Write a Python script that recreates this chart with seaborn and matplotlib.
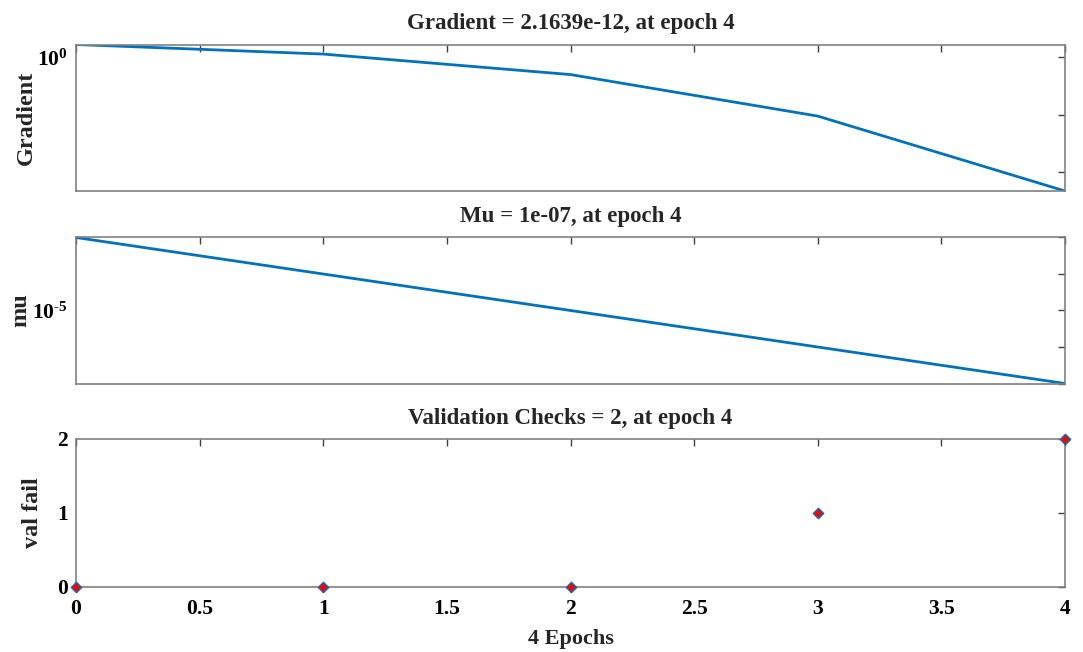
import numpy as np
import pandas as pd
import matplotlib
matplotlib.use("Agg")
import matplotlib.pyplot as plt
from matplotlib.ticker import FixedLocator, FixedFormatter, NullLocator
import seaborn as sns

# ---- data ----
epochs = [0, 1, 2, 3, 4]
gradient = [13.0, 1.9, 0.031, 7.4e-6, 2.1639e-12]
mu = [1e-3, 1e-4, 1e-5, 1e-6, 1e-7]
val_fail = [0, 0, 0, 1, 2]

titles = ["Gradient = 2.1639e-12, at epoch 4",
          "Mu = 1e-07, at epoch 4",
          "Validation Checks = 2, at epoch 4"]
ylabels = ["Gradient", "mu", "val fail"]
xlabel = "4 Epochs"
xticks = [0, 0.5, 1, 1.5, 2, 2.5, 3, 3.5, 4]
xticklabels = ["0", "0.5", "1", "1.5", "2", "2.5", "3", "3.5", "4"]

sns.set_style("white")
plt.rcParams["font.family"] = ["Liberation Serif", "DejaVu Serif"]
plt.rcParams["font.weight"] = "bold"
plt.rcParams["mathtext.fontset"] = "custom"
plt.rcParams["mathtext.rm"] = "Liberation Serif"
plt.rcParams["mathtext.bf"] = "Liberation Serif:bold"
plt.rcParams["mathtext.default"] = "regular"

blue = "#0072BD"
spine_c = "#808080"

fig = plt.figure(figsize=(10.83, 6.52), dpi=100)
W, H = 1083, 652
def ax_at(x0, y0, x1, y1):
    return fig.add_axes([x0 / W, 1 - y1 / H, (x1 - x0) / W, (y1 - y0) / H])

ax1 = ax_at(76, 44.5, 1065, 191)
ax2 = ax_at(76, 237.5, 1065, 383.5)
ax3 = ax_at(76, 439, 1065, 587)

df = pd.DataFrame({"epoch": epochs, "gradient": gradient, "mu": mu, "val": val_fail})

sns.lineplot(data=df, x="epoch", y="gradient", ax=ax1, color=blue, linewidth=2)
ax1.set_yscale("log")
ax1.set_ylim(min(gradient), max(gradient))
ax1.yaxis.set_major_locator(FixedLocator([1, 1e-5, 1e-10]))
ax1.yaxis.set_major_formatter(FixedFormatter([r"10$^{0}$", "", ""]))
ax1.yaxis.set_minor_locator(NullLocator())

sns.lineplot(data=df, x="epoch", y="mu", ax=ax2, color=blue, linewidth=2)
ax2.set_yscale("log")
ax2.set_ylim(min(mu), max(mu))
ax2.yaxis.set_major_locator(FixedLocator([1e-3, 1e-4, 1e-5, 1e-6, 1e-7]))
ax2.yaxis.set_major_formatter(FixedFormatter(["", "", r"10$^{\mathrm{‐}5}$", "", ""]))
ax2.yaxis.set_minor_locator(NullLocator())

sns.scatterplot(data=df, x="epoch", y="val", ax=ax3, marker="D", s=28,
                color="red", edgecolor=blue, linewidth=1.0, zorder=5, clip_on=False)
ax3.set_ylim(0, 2)
ax3.set_yticks([0, 1, 2])
ax3.set_yticklabels(["0", "1", "2"])

label_x = [-0.040, -0.0455, -0.0335]
for i, ax in enumerate([ax1, ax2, ax3]):
    ax.set_xlim(0, 4)
    ax.set_xticks(xticks)
    if i < 2:
        ax.set_xticklabels([])
    else:
        ax.set_xticklabels(xticklabels)
    ax.set_title(titles[i], fontsize=16.5, fontweight="bold", pad=11)
    ax.set_ylabel(ylabels[i], fontsize=17.5, fontweight="bold")
    ax.yaxis.set_label_coords(label_x[i], 0.5)
    ax.set_xlabel("")
    ax.tick_params(direction="in", length=5, width=1, colors="#404040",
                   labelcolor="black", labelsize=15.5, top=True, right=True)
    ax.tick_params(axis="x", pad=9)
    ax.tick_params(axis="y", pad=6)
    for lab in ax.get_xticklabels() + ax.get_yticklabels():
        lab.set_fontweight("bold")
    for s in ax.spines.values():
        s.set_color(spine_c)
        s.set_linewidth(1.2)
        s.set_visible(True)

ax3.set_xlabel(xlabel, fontsize=16, fontweight="bold", labelpad=7)

fig.savefig("out.png", dpi=100)
